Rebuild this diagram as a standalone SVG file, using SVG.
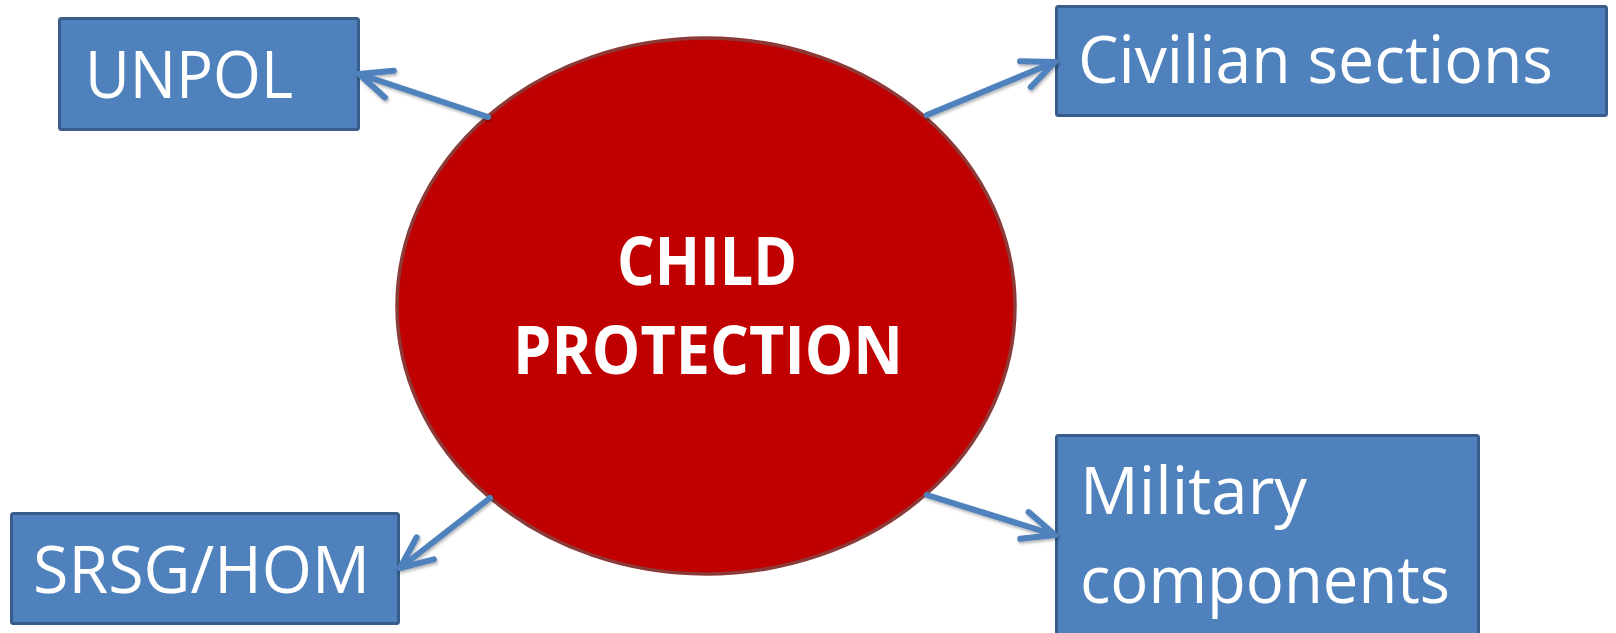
<svg xmlns="http://www.w3.org/2000/svg" width="1616" height="633" viewBox="0 0 1616 633">
<style>
.box{fill:#4F81BD;stroke:#385D8A;stroke-width:3}
.lbl{font-family:"Open Sans","Liberation Sans",sans-serif;font-size:66px;fill:#FFFFFF}
.ctr{font-family:"Open Sans","Liberation Sans",sans-serif;font-size:66px;font-weight:bold;fill:#FFFFFF;text-anchor:middle}
.conn{fill:none;stroke:#4F81BD;stroke-width:6;stroke-linecap:round;stroke-linejoin:round;marker-end:url(#arr)}
</style>
<defs>
<marker id="arr" markerUnits="userSpaceOnUse" orient="auto" viewBox="-40 -20 50 40" refX="0" refY="0" markerWidth="50" markerHeight="40" overflow="visible">
<path d="M-32,-14 L0,0 L-32,14" fill="none" stroke="#4F81BD" stroke-width="6" stroke-linecap="round" stroke-linejoin="round"/>
</marker>
<filter id="sh" x="-20%" y="-20%" width="140%" height="140%">
<feDropShadow dx="1" dy="2" stdDeviation="1.5" flood-color="#000" flood-opacity="0.3"/>
</filter>
</defs>
<rect width="1616" height="633" fill="#FFFFFF"/>
<g id="center">
<ellipse cx="706" cy="306" rx="309" ry="268" fill="#C00000" stroke="#8C3A38" stroke-width="3.5"/>
<text class="ctr" x="707" y="285" textLength="180" lengthAdjust="spacingAndGlyphs">CHILD</text>
<text class="ctr" x="708" y="374" textLength="390" lengthAdjust="spacingAndGlyphs">PROTECTION</text>
</g>
<g id="unpol">
<rect class="box" x="59.5" y="18.5" width="299" height="111" rx="2"/>
<text class="lbl" x="85" y="98" textLength="208" lengthAdjust="spacingAndGlyphs">UNPOL</text>
</g>
<g id="civilian">
<rect class="box" x="1056.5" y="6.5" width="550" height="109" rx="2"/>
<text class="lbl" x="1078" y="83" textLength="475" lengthAdjust="spacingAndGlyphs">Civilian sections</text>
</g>
<g id="srsg">
<rect class="box" x="11.5" y="513.5" width="387" height="110" rx="2"/>
<text class="lbl" x="33" y="593" textLength="337" lengthAdjust="spacingAndGlyphs">SRSG/HOM</text>
</g>
<g id="military">
<rect class="box" x="1056.5" y="435.5" width="422" height="220" rx="2"/>
<text class="lbl" x="1080" y="514" textLength="227" lengthAdjust="spacingAndGlyphs">Military</text>
<text class="lbl" x="1080" y="603" textLength="370" lengthAdjust="spacingAndGlyphs">components</text>
</g>
<g id="connectors" filter="url(#sh)">
<path class="conn" d="M488,117 L359,74"/>
<path class="conn" d="M927,115 L1055,62"/>
<path class="conn" d="M490,498 L400,568"/>
<path class="conn" d="M927,495 L1055,535"/>
</g>
</svg>
